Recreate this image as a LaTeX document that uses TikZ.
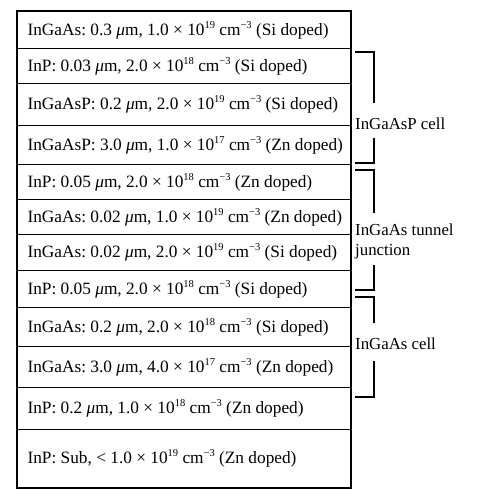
\documentclass[tikz,border=0pt]{standalone}
\usepackage{fontspec}
\setmainfont{Liberation Serif}
\frenchspacing
\newcommand{\um}{{\itshape μ}m}
\newcommand{\sups}[1]{\raisebox{0.42em}{\fontsize{10.5bp}{10.5bp}\selectfont #1}}
\newcommand{\ee}[1]{10\sups{#1}}
\newcommand{\cmm}{cm\sups{−3}}
\newcommand{\lt}[1]{\raisebox{-1.5bp}{\makebox[313bp][l]{#1}}}
\begin{document}
\begin{tikzpicture}[x=1bp,y=-1bp,
  layer/.style={draw=black,line width=1.1bp,rectangle,minimum width=333bp,inner xsep=10bp,inner ysep=0pt,font=\fontsize{17.3bp}{19bp}\selectfont,anchor=north west},
  brk/.style={line width=1.4bp,black},
  lbl/.style={anchor=west,inner sep=0pt,align=left,font=\fontsize{16.8bp}{20bp}\selectfont}]
\useasboundingbox (0,0) rectangle (479,500);
\node[layer,minimum height=37bp] (r1) at (17,11) {\lt{InGaAs: 0.3 \um, 1.0 × \ee{19} \cmm{} (Si doped)}};
\node[layer,minimum height=35bp] (r2) at (17,48) {\lt{InP: 0.03 \um, 2.0 × \ee{18} \cmm{} (Si doped)}};
\node[layer,minimum height=42bp] (r3) at (17,83) {\lt{InGaAsP: 0.2 \um, 2.0 × \ee{19} \cmm{} (Si doped)}};
\node[layer,minimum height=39bp] (r4) at (17,125) {\lt{InGaAsP: 3.0 \um, 1.0 × \ee{17} \cmm{} (Zn doped)}};
\node[layer,minimum height=35bp] (r5) at (17,164) {\lt{InP: 0.05 \um, 2.0 × \ee{18} \cmm{} (Zn doped)}};
\node[layer,minimum height=35bp] (r6) at (17,199) {\lt{InGaAs: 0.02 \um, 1.0 × \ee{19} \cmm{} (Zn doped)}};
\node[layer,minimum height=36bp] (r7) at (17,234) {\lt{InGaAs: 0.02 \um, 2.0 × \ee{19} \cmm{} (Si doped)}};
\node[layer,minimum height=37bp] (r8) at (17,270) {\lt{InP: 0.05 \um, 2.0 × \ee{18} \cmm{} (Si doped)}};
\node[layer,minimum height=39bp] (r9) at (17,307) {\lt{InGaAs: 0.2 \um, 2.0 × \ee{18} \cmm{} (Si doped)}};
\node[layer,minimum height=41bp] (r10) at (17,346) {\lt{InGaAs: 3.0 \um, 4.0 × \ee{17} \cmm{} (Zn doped)}};
\node[layer,minimum height=42bp] (r11) at (17,387) {\lt{InP: 0.2 \um, 1.0 × \ee{18} \cmm{} (Zn doped)}};
\node[layer,minimum height=58bp] (r12) at (17,429) {\lt{InP: Sub, < 1.0 × \ee{19} \cmm{} (Zn doped)}};
\draw[line width=2bp] (r1.north west) rectangle (r12.south east);
% brackets
\node[lbl] (c1) at (355,124) {InGaAsP cell};
\draw[brk] (355,52) -- (374,52) -- (374,103);
\draw[brk] (374,138) -- (374,163) -- (355,163);
\node[lbl] (c2) at (355,241) {InGaAs tunnel\\junction};
\draw[brk] (355,170) -- (374,170) -- (374,213);
\draw[brk] (374,265) -- (374,290) -- (355,290);
\node[lbl] (c3) at (355,344) {InGaAs cell};
\draw[brk] (355,297) -- (374,297) -- (374,323);
\draw[brk] (374,361) -- (374,397) -- (355,397);
\end{tikzpicture}
\end{document}
